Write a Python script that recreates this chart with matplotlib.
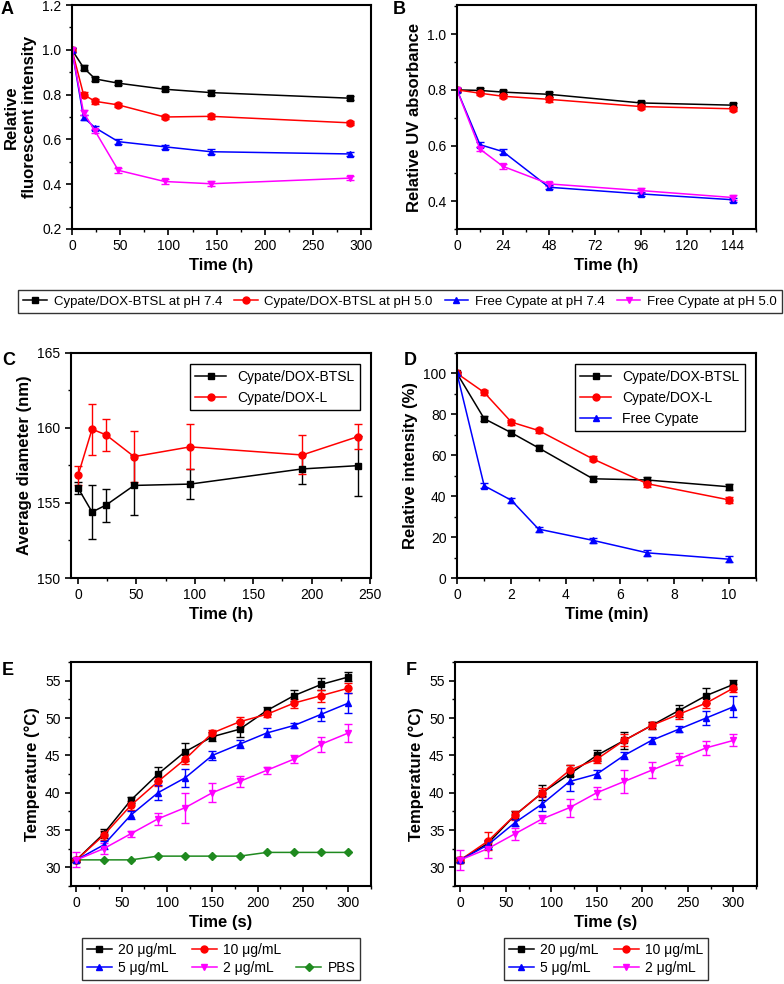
import matplotlib
matplotlib.use('Agg')
import matplotlib.pyplot as plt
from matplotlib.lines import Line2D
from matplotlib.ticker import MultipleLocator, FormatStrFormatter

plt.rcParams['font.family'] = ['Liberation Sans', 'DejaVu Sans']
plt.rcParams['font.size'] = 10
plt.rcParams['axes.linewidth'] = 1.5

# ---- data ----
# A: relative fluorescent intensity
a_time = [0, 12, 24, 48, 96, 144, 288]
a_btsl74 = [1.0, 0.92, 0.87, 0.851, 0.824, 0.809, 0.784]
a_btsl50 = [1.0, 0.80, 0.770, 0.754, 0.700, 0.703, 0.674]
a_free74 = [1.0, 0.698, 0.652, 0.590, 0.567, 0.545, 0.535]
a_free50 = [1.0, 0.720, 0.637, 0.462, 0.412, 0.402, 0.427]
a_err = [0.01, 0.01, 0.01, 0.01, 0.01, 0.01, 0.01]

# B: relative UV absorbance
b_time = [0, 12, 24, 48, 96, 144]
b_btsl74 = [0.800, 0.798, 0.792, 0.784, 0.753, 0.745]
b_btsl50 = [0.800, 0.788, 0.777, 0.766, 0.740, 0.732]
b_free74 = [0.800, 0.603, 0.578, 0.450, 0.426, 0.405]
b_free50 = [0.800, 0.587, 0.525, 0.462, 0.438, 0.413]
b_err = [0.008, 0.008, 0.008, 0.008, 0.008, 0.008]

series_labels = ['Cypate/DOX-BTSL at pH 7.4', 'Cypate/DOX-BTSL at pH 5.0',
                 'Free Cypate at pH 7.4', 'Free Cypate at pH 5.0']

# C: average diameter
c_time = [0, 12, 24, 48, 96, 192, 240]
c_btsl = [156.0, 154.4, 154.86, 156.17, 156.26, 157.27, 157.49]
c_btsl_err = [0.4, 1.8, 1.1, 2.0, 1.0, 1.0, 2.0]
c_lipo = [156.84, 159.92, 159.54, 158.09, 158.74, 158.2, 159.43]
c_lipo_err = [0.65, 1.7, 1.05, 1.7, 1.5, 1.3, 0.85]

# D: relative intensity under irradiation
d_time = [0, 1, 2, 3, 5, 7, 10]
d_btsl = [100, 77.9, 71.0, 63.6, 48.5, 47.9, 44.6]
d_lipo = [100, 90.7, 76.2, 72.1, 58.2, 46.1, 38.2]
d_free = [100, 45.1, 38.0, 23.9, 18.4, 12.3, 9.2]
d_err = [0.8, 1.2, 1.2, 1.2, 1.2, 1.5, 1.5]

# E / F: temperature curves
t_time = [0, 30, 60, 90, 120, 150, 180, 210, 240, 270, 300]
conc_labels = ['20 \u03bcg/mL', '10 \u03bcg/mL', '5 \u03bcg/mL', '2 \u03bcg/mL', 'PBS']

e_20 = [31, 34.5, 39, 42.5, 45.5, 47.5, 48.5, 51, 53, 54.5, 55.5]
e_20_err = [0.3, 0.6, 0.4, 0.9, 1.2, 0.6, 1.1, 0.5, 0.7, 0.8, 0.6]
e_10 = [31, 34.3, 38.3, 41.5, 44.5, 48, 49.5, 50.5, 52, 53, 54]
e_10_err = [0.3, 0.6, 0.6, 0.6, 0.7, 0.4, 0.7, 0.4, 0.6, 0.8, 0.7]
e_5 = [31, 33, 37, 40, 42, 45, 46.5, 48, 49, 50.5, 52]
e_5_err = [0.3, 0.5, 0.5, 1.0, 1.2, 0.6, 0.5, 0.6, 0.4, 0.9, 1.3]
e_2 = [31, 32.5, 34.5, 36.5, 38, 40, 41.5, 43, 44.5, 46.5, 48]
e_2_err = [1.0, 0.7, 0.4, 0.8, 2.0, 1.3, 0.8, 0.5, 0.5, 1.0, 1.2]
e_pbs = [31, 31, 31, 31.5, 31.5, 31.5, 31.5, 32, 32, 32, 32]

f_20 = [31, 33.2, 37, 40, 42.5, 45, 47, 49, 51, 53, 54.5]
f_20_err = [0.3, 0.5, 0.5, 1.0, 1.2, 0.7, 1.1, 0.5, 0.8, 1.0, 0.6]
f_10 = [31, 33.5, 37, 40, 43, 44.5, 47, 49, 50.5, 52, 54]
f_10_err = [0.4, 1.2, 0.6, 0.6, 0.7, 0.5, 0.8, 0.5, 0.6, 0.7, 0.5]
f_5 = [31, 33, 36, 38.5, 41.5, 42.5, 45, 47, 48.5, 50, 51.5]
f_5_err = [0.3, 0.5, 0.5, 1.0, 1.3, 0.6, 0.5, 0.5, 0.4, 0.9, 1.4]
f_2 = [31, 32.5, 34.5, 36.5, 38, 40, 41.5, 43, 44.5, 46, 47]
f_2_err = [1.3, 1.2, 0.8, 0.5, 1.2, 0.8, 1.5, 1.1, 0.8, 0.9, 0.8]

BLACK, RED, BLUE, MAG, GREEN = 'black', '#ff0000', '#0000ff', '#ff00ff', '#1f8a1f'


def series(ax, x, y, err, color, marker, label, ms=5):
    # returns the data line only, so legends show line + marker
    if err is None:
        h, = ax.plot(x, y, color=color, marker=marker, ms=ms, lw=1.1, label=label)
        return h
    c = ax.errorbar(x, y, yerr=err, color=color, marker=marker, ms=ms, lw=1.1,
                    elinewidth=1, capsize=3, capthick=1)
    c[0].set_label(label)
    return c[0]


def style(ax, xmaj, xmin, ymaj, ymin, xlabel, ylabel):
    ax.xaxis.set_major_locator(MultipleLocator(xmaj))
    ax.xaxis.set_minor_locator(MultipleLocator(xmin))
    ax.yaxis.set_major_locator(MultipleLocator(ymaj))
    ax.yaxis.set_minor_locator(MultipleLocator(ymin))
    ax.tick_params(which='major', direction='out', length=4, width=1.2, labelsize=10)
    ax.tick_params(which='minor', direction='out', length=2.5, width=1)
    ax.set_xlabel(xlabel, fontsize=12, fontweight='bold', labelpad=3)
    ax.set_ylabel(ylabel, fontsize=12, fontweight='bold', labelpad=4)


fig = plt.figure(figsize=(7.84, 9.84), dpi=100)

axA = fig.add_axes([0.0918, 0.7673, 0.3814, 0.2276])
axB = fig.add_axes([0.5829, 0.7673, 0.3814, 0.2276])
axC = fig.add_axes([0.0906, 0.4126, 0.3827, 0.2287])
axD = fig.add_axes([0.5829, 0.4126, 0.3814, 0.2287])
axE = fig.add_axes([0.0906, 0.0996, 0.3827, 0.2276])
axF = fig.add_axes([0.5804, 0.0996, 0.3852, 0.2276])

# A
hA = [series(axA, a_time, a_btsl74, a_err, BLACK, 's', series_labels[0]),
      series(axA, a_time, a_btsl50, a_err, RED, 'o', series_labels[1]),
      series(axA, a_time, a_free74, a_err, BLUE, '^', series_labels[2]),
      series(axA, a_time, a_free50, a_err, MAG, 'v', series_labels[3])]
axA.set_xlim(0, 310)
axA.set_ylim(0.2, 1.2)
style(axA, 50, 25, 0.2, 0.1, 'Time (h)', 'Relative\nfluorescent intensity')
axA.yaxis.set_major_formatter(FormatStrFormatter('%.1f'))

# B
series(axB, b_time, b_btsl74, b_err, BLACK, 's', series_labels[0])
series(axB, b_time, b_btsl50, b_err, RED, 'o', series_labels[1])
series(axB, b_time, b_free74, b_err, BLUE, '^', series_labels[2])
series(axB, b_time, b_free50, b_err, MAG, 'v', series_labels[3])
axB.set_xlim(0, 156)
axB.set_ylim(0.3, 1.105)
style(axB, 24, 12, 0.2, 0.1, 'Time (h)', 'Relative UV absorbance')
axB.set_yticks([0.4, 0.6, 0.8, 1.0])
axB.yaxis.set_major_formatter(FormatStrFormatter('%.1f'))

fig.legend(handles=hA, labels=series_labels, loc='lower left', ncol=4,
           bbox_to_anchor=(18 / 784, 1 - 313 / 984, 764 / 784, 26 / 984), mode='expand',
           fontsize=9.5, frameon=True, fancybox=False, edgecolor='black',
           handlelength=1.8, handletextpad=0.5, borderaxespad=0, borderpad=0.4,
           columnspacing=0.8)

# C
series(axC, c_time, c_btsl, c_btsl_err, BLACK, 's', 'Cypate/DOX-BTSL')
series(axC, c_time, c_lipo, c_lipo_err, RED, 'o', 'Cypate/DOX-L')
axC.set_xlim(-6, 251)
axC.set_ylim(150, 165)
style(axC, 50, 25, 5, 2.5, 'Time (h)', 'Average diameter (nm)')
axC.legend(loc='upper right', fontsize=10, fancybox=False, edgecolor='black',
           handlelength=2.2, borderaxespad=0.8, framealpha=1)

# D
series(axD, d_time, d_btsl, d_err, BLACK, 's', 'Cypate/DOX-BTSL')
series(axD, d_time, d_lipo, d_err, RED, 'o', 'Cypate/DOX-L')
series(axD, d_time, d_free, d_err, BLUE, '^', 'Free Cypate')
axD.set_xlim(0, 11)
axD.set_ylim(0, 110)
style(axD, 2, 1, 20, 10, 'Time (min)', 'Relative intensity (%)')
axD.legend(loc='upper right', fontsize=10, fancybox=False, edgecolor='black',
           handlelength=2.2, borderaxespad=0.8, framealpha=1)

# E
hE = [series(axE, t_time, e_20, e_20_err, BLACK, 's', conc_labels[0]),
      series(axE, t_time, e_10, e_10_err, RED, 'o', conc_labels[1]),
      series(axE, t_time, e_5, e_5_err, BLUE, '^', conc_labels[2]),
      series(axE, t_time, e_2, e_2_err, MAG, 'v', conc_labels[3]),
      series(axE, t_time, e_pbs, None, GREEN, 'D', conc_labels[4], ms=4.5)]
axE.set_xlim(-6, 325)
axE.set_ylim(27.5, 57.5)
style(axE, 50, 25, 5, 2.5, 'Time (s)', 'Temperature (\u00b0C)')
blank = Line2D([], [], linestyle='none')
axE.legend(handles=[hE[0], hE[2], hE[1], hE[3], blank, hE[4]],
           labels=[conc_labels[0], conc_labels[2], conc_labels[1], conc_labels[3], '', conc_labels[4]],
           loc='upper center', bbox_to_anchor=(0.5, -0.2), ncol=3, fontsize=10,
           fancybox=False, edgecolor='black', handlelength=1.8, columnspacing=1.1,
           handletextpad=0.45, labelspacing=0.3, borderpad=0.35)

# F
hF = [series(axF, t_time, f_20, f_20_err, BLACK, 's', conc_labels[0]),
      series(axF, t_time, f_10, f_10_err, RED, 'o', conc_labels[1]),
      series(axF, t_time, f_5, f_5_err, BLUE, '^', conc_labels[2]),
      series(axF, t_time, f_2, f_2_err, MAG, 'v', conc_labels[3])]
axF.set_xlim(-6, 326)
axF.set_ylim(27.5, 57.5)
style(axF, 50, 25, 5, 2.5, 'Time (s)', 'Temperature (\u00b0C)')
axF.legend(handles=[hF[0], hF[2], hF[1], hF[3]],
           labels=[conc_labels[0], conc_labels[2], conc_labels[1], conc_labels[3]],
           loc='upper center', bbox_to_anchor=(0.5, -0.2), ncol=2, fontsize=10,
           fancybox=False, edgecolor='black', handlelength=1.8, columnspacing=1.1,
           handletextpad=0.45, labelspacing=0.3, borderpad=0.35)

# panel letters
for letter, px, py in [('A', 1, 1), ('B', 393, 1), ('C', 2, 352),
                       ('D', 404, 352), ('E', 2, 662), ('F', 406, 662)]:
    fig.text(px / 784, 1 - py / 984, letter, fontsize=13, fontweight='bold',
             ha='left', va='top')

fig.savefig('out.png', dpi=100)
